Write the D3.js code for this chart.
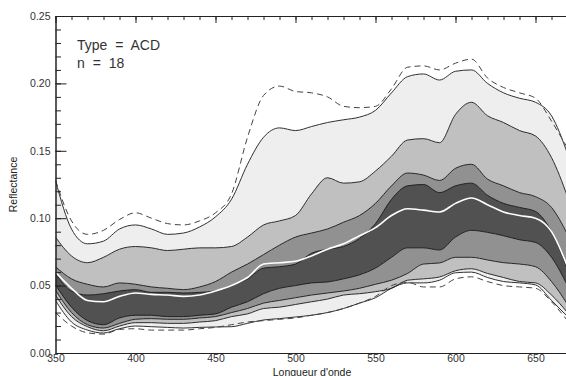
<!DOCTYPE html>
<html>
<head>
<meta charset="utf-8">
<script src="https://cdn.jsdelivr.net/npm/d3@7"></script>
<style>
  html, body { margin: 0; padding: 0; background: #fff; }
  svg { display: block; font-family: "Liberation Sans", Arial, sans-serif; }
</style>
</head>
<body>
<svg id="chart" width="566" height="376"></svg>
<script>
// Wavelengths (nm) sampled every 10 nm
const wavelengths = [350,360,370,380,390,400,410,420,430,440,450,460,470,480,490,500,
  510,520,530,540,550,560,570,580,590,600,610,620,630,640,650,660,670];

// Envelope (dashed) and percentile curves of reflectance, n = 18
const maxCurve = [0.128,0.098,0.088,0.091,0.099,0.104,0.100,0.096,0.095,0.098,0.104,0.118,0.160,0.191,0.198,0.194,
  0.193,0.190,0.183,0.182,0.183,0.196,0.212,0.213,0.210,0.215,0.218,0.204,0.197,0.193,0.189,0.172,0.152];
const upper1 = [0.128,0.092,0.081,0.083,0.092,0.095,0.092,0.088,0.089,0.0935,0.101,0.114,0.140,0.160,0.167,0.165,
  0.168,0.171,0.173,0.175,0.180,0.193,0.205,0.207,0.2025,0.209,0.210,0.200,0.193,0.189,0.186,0.176,0.148];
const upper2 = [0.086,0.072,0.067,0.071,0.077,0.079,0.078,0.076,0.077,0.078,0.078,0.079,0.086,0.095,0.098,0.102,
  0.118,0.130,0.126,0.127,0.135,0.146,0.158,0.159,0.156,0.177,0.186,0.176,0.171,0.165,0.161,0.145,0.116];
const upper3 = [0.064,0.055,0.051,0.049,0.052,0.051,0.049,0.048,0.047,0.049,0.053,0.060,0.066,0.073,0.080,0.086,
  0.089,0.092,0.097,0.102,0.111,0.124,0.1335,0.132,0.128,0.137,0.140,0.129,0.124,0.119,0.116,0.108,0.088];
const upper4 = [0.059,0.046,0.043,0.044,0.046,0.047,0.045,0.045,0.0445,0.045,0.046,0.050,0.055,0.063,0.064,0.066,
  0.074,0.077,0.079,0.085,0.096,0.114,0.124,0.125,0.119,0.124,0.126,0.117,0.111,0.108,0.105,0.090,0.062];
const median = [0.060,0.048,0.039,0.038,0.042,0.0445,0.0435,0.043,0.042,0.043,0.046,0.050,0.056,0.066,0.067,0.068,
  0.072,0.077,0.081,0.087,0.093,0.102,0.107,0.106,0.1046,0.111,0.115,0.110,0.1046,0.102,0.100,0.090,0.064];
const lower4 = [0.0505,0.034,0.024,0.021,0.026,0.028,0.028,0.027,0.027,0.028,0.029,0.034,0.038,0.044,0.048,0.050,
  0.052,0.0527,0.055,0.058,0.063,0.071,0.078,0.078,0.0764,0.086,0.091,0.0895,0.087,0.084,0.082,0.071,0.050];
const lower3 = [0.0467,0.030,0.021,0.0185,0.022,0.025,0.0255,0.025,0.025,0.026,0.027,0.030,0.033,0.037,0.039,0.041,
  0.043,0.0445,0.046,0.048,0.051,0.054,0.059,0.066,0.0668,0.071,0.071,0.069,0.067,0.066,0.064,0.053,0.036];
const lower2 = [0.043,0.027,0.0195,0.0165,0.020,0.0225,0.0225,0.022,0.022,0.023,0.024,0.027,0.029,0.033,0.034,0.036,
  0.038,0.040,0.043,0.044,0.0455,0.048,0.054,0.055,0.0564,0.061,0.0625,0.059,0.056,0.053,0.052,0.043,0.030];
const lower1 = [0.039,0.023,0.017,0.0148,0.018,0.020,0.0195,0.019,0.0185,0.019,0.0193,0.0195,0.022,0.0245,0.0255,0.0267,
  0.028,0.030,0.033,0.037,0.041,0.048,0.052,0.052,0.054,0.0595,0.060,0.056,0.053,0.052,0.0505,0.039,0.027];
const minCurve = [0.030,0.020,0.015,0.014,0.0175,0.018,0.017,0.017,0.017,0.018,0.019,0.021,0.023,0.024,0.025,0.026,
  0.028,0.030,0.033,0.037,0.042,0.050,0.0525,0.049,0.049,0.055,0.0565,0.053,0.050,0.049,0.048,0.038,0.024];

const yTicks = [0.00, 0.05, 0.10, 0.15, 0.20, 0.25];
const xTicks = [350, 400, 450, 500, 550, 600, 650];
const annotation = ["Type = ACD", "n = 18"];
const xTitle = "Longueur d'onde";
const yTitle = "Reflectance";

const svg = d3.select("#chart");
const plotLeft = 55.5, plotTop = 16, plotBottom = 353, plotRight = 567.5;

const x = d3.scaleLinear().domain([350, 670]).range([plotLeft, plotRight]);
const y = d3.scaleLinear().domain([0, 0.25]).range([plotBottom, plotTop]);

svg.append("defs").append("clipPath").attr("id", "plotClip")
  .append("rect").attr("x", plotLeft).attr("y", plotTop)
  .attr("width", plotRight - plotLeft).attr("height", plotBottom - plotTop);

const plot = svg.append("g").attr("clip-path", "url(#plotClip)");

const curve = d3.curveMonotoneX;
const band = (hi, lo) => d3.area()
  .x((d, i) => x(wavelengths[i]))
  .y0((d, i) => y(lo[i]))
  .y1((d, i) => y(hi[i]))
  .curve(curve)(wavelengths);
const line = arr => d3.line()
  .x((d, i) => x(wavelengths[i]))
  .y((d, i) => y(arr[i]))
  .curve(curve)(wavelengths);

// Nested percentile bands, outermost first
const bands = [
  [upper1, lower1, "#eeeeee"],
  [upper2, lower2, "#c0c0c0"],
  [upper3, lower3, "#919191"],
  [upper4, lower4, "#515151"]
];
bands.forEach(([hi, lo, fill]) => {
  plot.append("path").attr("d", band(hi, lo)).attr("fill", fill).attr("stroke", "none");
});

// Band boundaries
[upper1, upper2, upper3, upper4, lower4, lower3, lower2, lower1].forEach(arr => {
  plot.append("path").attr("d", line(arr)).attr("fill", "none")
    .attr("stroke", "#1a1a1a").attr("stroke-width", 0.9);
});

// Min / max envelope
[maxCurve, minCurve].forEach(arr => {
  plot.append("path").attr("d", line(arr)).attr("fill", "none")
    .attr("stroke", "#444").attr("stroke-width", 1).attr("stroke-dasharray", "6,4");
});

// Median
plot.append("path").attr("d", line(median)).attr("fill", "none")
  .attr("stroke", "#ffffff").attr("stroke-width", 1.6);

// Axes
const axisColor = "#222";
const minorY = d3.range(0, 0.2501, 0.01);
const minorX = d3.range(350, 671, 10);

const leftMinor = svg.append("g").attr("transform", `translate(${plotLeft},0)`)
  .call(d3.axisLeft(y).tickValues(minorY).tickSize(-5.5).tickSizeOuter(0).tickFormat(""));
const leftMajor = svg.append("g").attr("transform", `translate(${plotLeft},0)`)
  .call(d3.axisLeft(y).tickValues(yTicks).tickSize(-11).tickSizeOuter(0).tickPadding(5)
    .tickFormat(d3.format(".2f")));

const topMinor = svg.append("g").attr("transform", `translate(0,${plotTop})`)
  .call(d3.axisTop(x).tickValues(minorX).tickSize(-4).tickSizeOuter(0).tickFormat(""));
const topMajor = svg.append("g").attr("transform", `translate(0,${plotTop})`)
  .call(d3.axisTop(x).tickValues(xTicks).tickSize(-7).tickSizeOuter(0).tickFormat(""));

const bottomAxis = svg.append("g").attr("transform", `translate(0,${plotBottom})`)
  .call(d3.axisBottom(x).tickValues(xTicks).tickSize(0).tickSizeOuter(0).tickPadding(2)
    .tickFormat(d3.format("d")));

[leftMinor, leftMajor, topMinor, topMajor, bottomAxis].forEach(g => {
  g.selectAll(".domain").attr("stroke", axisColor).attr("stroke-width", 1);
  g.selectAll(".tick line").attr("stroke", axisColor).attr("stroke-width", 1);
  g.selectAll(".tick text").attr("fill", "#333").attr("font-size", 10.5)
    .attr("font-family", "'Liberation Sans', Arial, sans-serif");
});

// Titles
svg.append("text").attr("x", 312).attr("y", 375.5).attr("text-anchor", "middle")
  .attr("font-size", 10.5).attr("fill", "#222").text(xTitle);
svg.append("text").attr("transform", `translate(17,${(plotTop + plotBottom) / 2}) rotate(-90)`)
  .attr("text-anchor", "middle").attr("font-size", 10.5).attr("fill", "#222").text(yTitle);

// Annotation
annotation.forEach((t, i) => {
  svg.append("text").attr("x", 77).attr("y", 50 + i * 17.5)
    .attr("font-size", 14).attr("fill", "#333").attr("word-spacing", 4).text(t);
});
</script>
</body>
</html>
